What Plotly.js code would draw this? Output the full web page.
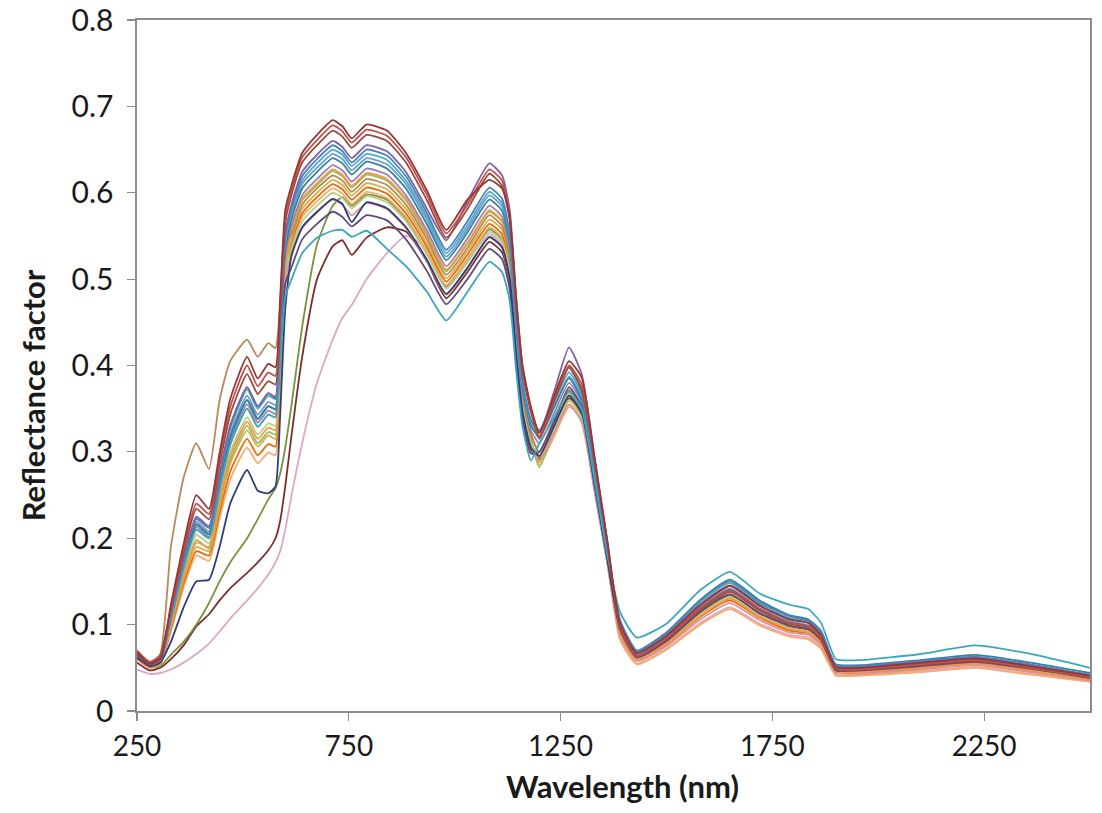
<!DOCTYPE html>
<html>
<head>
<meta charset="utf-8">
<script src="https://cdn.plot.ly/plotly-3.0.1.min.js"></script>
<style>
html,body{margin:0;padding:0;background:#fff;}
#chart{width:1102px;height:813px;}
</style>
</head>
<body>
<div id="chart"></div>
<script>
// Wavelength sample points (nm)
const wavelength = [250,280,305,330,360,390,420,445,470,510,535,560,577,588,600,615,640,675,712,735,757,792,840,885,935,980,1030,1082,1112,1130,1145,1160,1180,1200,1235,1270,1300,1330,1360,1390,1430,1500,1580,1650,1720,1790,1835,1865,1885,1900,1960,2100,2230,2360,2500];

// Reflectance factor per sample
const s01 = [.068,.055,.062,.123,.193,.25,.234,.299,.361,.41,.385,.402,.398,.479,.58,.609,.646,.667,.684,.677,.663,.679,.672,.646,.602,.557,.592,.615,.605,.572,.479,.40,.352,.322,.365,.405,.386,.294,.198,.102,.067,.087,.123,.145,.122,.106,.102,.088,.065,.051,.05,.056,.061,.052,.041];
const s02 = [.070,.057,.064,.12,.188,.24,.228,.292,.352,.40,.376,.392,.388,.47,.572,.603,.641,.661,.678,.671,.658,.673,.666,.641,.597,.553,.586,.627,.614,.573,.475,.397,.349,.318,.362,.40,.378,.29,.196,.098,.064,.084,.119,.14,.118,.102,.098,.085,.063,.049,.048,.054,.059,.05,.039];
const s03 = [.066,.054,.060,.117,.183,.234,.222,.285,.343,.39,.367,.382,.378,.46,.565,.598,.635,.655,.672,.665,.652,.667,.66,.635,.591,.548,.581,.622,.608,.568,.47,.393,.346,.315,.358,.398,.372,.289,.195,.097,.063,.083,.117,.138,.116,.101,.097,.084,.062,.048,.048,.053,.058,.05,.039];
const s04 = [.065,.054,.058,.113,.176,.225,.214,.274,.33,.375,.353,.368,.364,.446,.552,.587,.624,.644,.66,.653,.64,.655,.648,.624,.581,.545,.59,.634,.62,.58,.48,.40,.35,.322,.37,.421,.39,.295,.198,.102,.067,.087,.123,.145,.122,.106,.102,.088,.065,.051,.05,.056,.061,.052,.041];
const s05 = [.064,.053,.058,.112,.176,.222,.212,.272,.33,.375,.352,.368,.362,.445,.549,.583,.619,.639,.655,.648,.635,.65,.643,.619,.576,.534,.567,.606,.593,.553,.458,.383,.337,.325,.362,.398,.37,.282,.19,.105,.069,.09,.128,.15,.126,.11,.105,.092,.068,.053,.052,.058,.063,.054,.042];
const s06 = [.066,.055,.06,.112,.175,.223,.212,.272,.327,.372,.35,.365,.361,.442,.544,.579,.614,.634,.65,.644,.631,.645,.638,.614,.572,.53,.562,.601,.588,.549,.455,.38,.335,.323,.358,.392,.367,.28,.188,.104,.068,.089,.126,.148,.124,.108,.104,.09,.067,.052,.051,.057,.062,.053,.041];
const s07 = [.063,.053,.057,.11,.172,.219,.208,.266,.321,.365,.343,.358,.354,.435,.539,.574,.61,.629,.645,.639,.626,.64,.633,.61,.568,.526,.558,.597,.584,.545,.452,.377,.332,.316,.352,.387,.364,.277,.187,.099,.065,.085,.121,.142,.119,.104,.099,.087,.064,.05,.049,.055,.06,.051,.04];
const s08 = [.067,.055,.06,.108,.169,.216,.205,.263,.317,.36,.338,.353,.349,.43,.534,.57,.605,.624,.64,.634,.621,.636,.628,.605,.563,.522,.554,.592,.579,.541,.448,.374,.33,.318,.352,.385,.36,.275,.186,.106,.07,.091,.129,.152,.128,.111,.106,.093,.068,.054,.053,.059,.065,.056,.044];
const s09 = [.062,.052,.056,.107,.167,.213,.202,.259,.312,.355,.334,.348,.344,.424,.527,.562,.597,.616,.632,.626,.613,.628,.621,.597,.556,.515,.547,.585,.572,.534,.442,.37,.325,.31,.345,.38,.357,.272,.183,.098,.064,.084,.119,.14,.118,.102,.098,.085,.063,.049,.048,.054,.059,.05,.039];
const s10 = [.063,.052,.056,.10,.157,.195,.19,.245,.295,.335,.315,.328,.325,.408,.516,.558,.593,.611,.627,.621,.608,.623,.616,.593,.552,.511,.542,.58,.567,.53,.439,.367,.323,.296,.335,.37,.352,.27,.182,.091,.06,.078,.11,.13,.109,.095,.091,.079,.058,.046,.045,.05,.055,.047,.036];
const s11 = [.07,.056,.066,.19,.27,.31,.28,.36,.405,.43,.41,.426,.42,.47,.544,.552,.586,.605,.62,.614,.601,.616,.609,.586,.546,.505,.536,.574,.561,.524,.434,.363,.319,.30,.338,.372,.35,.267,.18,.095,.062,.081,.115,.135,.113,.099,.095,.082,.061,.047,.047,.052,.057,.049,.038];
const s12 = [.064,.053,.057,.099,.155,.198,.188,.241,.29,.33,.31,.323,.32,.404,.513,.556,.591,.609,.625,.619,.606,.621,.614,.591,.55,.509,.541,.578,.566,.528,.438,.366,.315,.282,.325,.365,.35,.27,.182,.098,.064,.084,.119,.14,.118,.102,.098,.085,.063,.049,.048,.054,.059,.05,.039];
const s13 = [.062,.052,.056,.098,.153,.19,.185,.237,.286,.325,.306,.319,.315,.398,.505,.547,.581,.60,.615,.609,.597,.611,.604,.581,.541,.501,.532,.569,.557,.52,.431,.36,.314,.288,.33,.368,.348,.265,.178,.095,.062,.081,.115,.135,.113,.099,.095,.082,.061,.047,.047,.052,.057,.049,.038];
const s14 = [.061,.051,.055,.095,.148,.185,.18,.23,.277,.315,.296,.309,.306,.389,.498,.543,.576,.595,.61,.604,.592,.606,.599,.576,.537,.497,.528,.564,.552,.515,.427,.357,.312,.29,.325,.36,.345,.262,.177,.09,.059,.077,.109,.128,.108,.093,.09,.078,.058,.045,.044,.049,.054,.046,.036];
const s15 = [.06,.05,.054,.092,.143,.18,.174,.223,.268,.305,.287,.299,.296,.38,.491,.538,.572,.59,.605,.599,.587,.601,.594,.572,.532,.493,.523,.56,.548,.511,.424,.354,.31,.285,.318,.352,.34,.26,.175,.083,.054,.071,.10,.118,.099,.086,.083,.072,.053,.041,.041,.045,.05,.042,.034];
const s16 = [.063,.052,.057,.102,.16,.204,.194,.248,.299,.34,.32,.333,.33,.405,.501,.534,.567,.585,.60,.594,.582,.596,.589,.567,.528,.489,.519,.555,.543,.507,.42,.351,.309,.294,.327,.36,.339,.258,.174,.092,.061,.079,.112,.132,.111,.096,.092,.081,.059,.046,.046,.051,.055,.048,.037];
const s17 = [.065,.054,.058,.105,.165,.21,.20,.256,.308,.35,.329,.343,.34,.411,.50,.527,.559,.577,.592,.586,.574,.588,.581,.559,.521,.482,.512,.548,.536,.50,.414,.346,.305,.29,.322,.355,.334,.255,.172,.088,.058,.075,.106,.125,.105,.091,.088,.076,.056,.044,.043,.048,.053,.045,.035];
const s18 = [.062,.052,.056,.08,.12,.15,.152,.19,.24,.279,.255,.252,.26,.343,.466,.528,.56,.578,.593,.587,.566,.589,.582,.56,.522,.483,.513,.549,.537,.501,.415,.347,.305,.295,.33,.365,.345,.262,.177,.098,.064,.084,.119,.14,.118,.102,.098,.085,.063,.049,.048,.054,.059,.05,.039];
const s19 = [.064,.053,.058,.108,.169,.216,.205,.263,.317,.36,.338,.353,.349,.415,.495,.514,.546,.564,.578,.572,.561,.574,.568,.546,.509,.471,.50,.535,.523,.488,.405,.338,.298,.30,.335,.375,.352,.268,.18,.095,.062,.081,.115,.135,.113,.099,.095,.082,.061,.047,.047,.052,.057,.049,.038];
const s20 = [.068,.056,.061,.105,.165,.21,.20,.256,.308,.35,.329,.343,.34,.403,.48,.50,.53,.548,.556,.557,.549,.556,.535,.515,.485,.452,.485,.52,.508,.475,.395,.33,.29,.31,.34,.37,.35,.268,.182,.115,.085,.101,.14,.161,.136,.123,.118,.102,.076,.06,.059,.066,.076,.066,.05];
const s21 = [.06,.05,.052,.065,.08,.10,.125,.15,.172,.20,.222,.245,.258,.275,.305,.355,.445,.54,.585,.595,.585,.598,.592,.57,.531,.492,.523,.558,.546,.51,.423,.353,.31,.29,.325,.36,.34,.259,.175,.092,.06,.079,.112,.132,.111,.096,.092,.081,.059,.046,.046,.051,.055,.048,.037];
const s22 = [.056,.047,.05,.06,.076,.098,.112,.128,.142,.16,.172,.186,.20,.22,.26,.32,.41,.50,.538,.545,.528,.548,.56,.555,.52,.478,.508,.543,.531,.496,.411,.343,.302,.292,.326,.362,.342,.26,.176,.094,.061,.08,.113,.134,.113,.098,.094,.082,.06,.047,.046,.052,.056,.048,.038];
const s23 = [.048,.043,.044,.048,.056,.066,.078,.092,.107,.128,.142,.158,.172,.185,.21,.25,.31,.38,.43,.455,.47,.50,.53,.55,.535,.49,.52,.552,.54,.505,.418,.35,.305,.29,.322,.355,.336,.256,.173,.085,.055,.072,.102,.12,.101,.088,.085,.073,.054,.042,.042,.046,.051,.043,.034];

const seriesList = [s23,s22,s21,s15,s14,s13,s12,s16,s17,s10,s11,s09,s19,s07,s08,s06,s05,s18,s20,s04,s03,s02,s01];
const seriesColors = ['#DDA7C4','#7B2F2D','#77933C','#F9AB6B','#E46C0A','#D4B24C','#9BBB59','#B9CF85','#D99694','#F79646','#B7885A','#9983B5','#604A7B','#729ACA','#31859C','#4BACC6','#4F81BD','#2F3E7A','#3DA5BE','#8064A2','#9C4A3A','#C0504D','#953735'];

const xTicks = [250,750,1250,1750,2250];
const yTicks = [0,0.1,0.2,0.3,0.4,0.5,0.6,0.7,0.8];
const xTitle = 'Wavelength (nm)';
const yTitle = 'Reflectance factor';

const traces = seriesList.map((ys, i) => ({
  x: wavelength,
  y: ys,
  type: 'scatter',
  mode: 'lines',
  line: {color: seriesColors[i], width: 1.8, shape: 'spline', smoothing: 0.5},
  hoverinfo: 'skip',
  showlegend: false
}));

const axisColor = '#8c8c8c';
const textColor = '#1a1a1a';
const fam = 'Lato, "Open Sans", sans-serif';
const layout = {
  width: 1102,
  height: 813,
  margin: {l: 137, r: 12, t: 20, b: 102},
  paper_bgcolor: '#ffffff',
  plot_bgcolor: '#ffffff',
  font: {family: fam, color: textColor},
  xaxis: {
    range: [250, 2500],
    tickvals: xTicks,
    ticktext: xTicks.map(String),
    ticks: 'outside', ticklen: 8, tickwidth: 1.2, tickcolor: axisColor,
    showline: true, mirror: true, linecolor: axisColor, linewidth: 1.6,
    showgrid: false, zeroline: false,
    ticklabelstandoff: 2,
    ticklabeloverflow: 'allow',
    tickfont: {size: 28, family: fam, color: textColor}
  },
  yaxis: {
    range: [0, 0.8],
    tickvals: yTicks,
    ticktext: yTicks.map(v => v === 0 ? '0' : v.toFixed(1)),
    ticks: 'outside', ticklen: 8, tickwidth: 1.2, tickcolor: axisColor,
    showline: true, mirror: true, linecolor: axisColor, linewidth: 1.6,
    showgrid: false, zeroline: false,
    ticklabelstandoff: 8,
    ticklabeloverflow: 'allow',
    tickfont: {size: 30, family: fam, color: textColor}
  },
  annotations: [
    {text: '<b>' + xTitle + '</b>', xref: 'paper', yref: 'paper', x: 0.509, y: -0.108,
     xanchor: 'center', yanchor: 'middle', showarrow: false,
     font: {size: 31, family: fam, color: textColor}},
    {text: '<b>' + yTitle + '</b>', xref: 'paper', yref: 'paper', x: -0.109, y: 0.457,
     xanchor: 'center', yanchor: 'middle', showarrow: false, textangle: -90,
     font: {size: 31, family: fam, color: textColor}}
  ]
};

Plotly.newPlot('chart', traces, layout, {displayModeBar: false, staticPlot: true});
</script>
</body>
</html>
